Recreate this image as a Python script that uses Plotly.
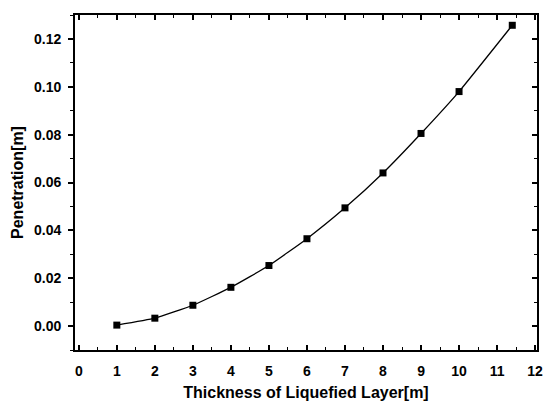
import plotly.graph_objects as go

thickness = [1, 2, 3, 4, 5, 6, 7, 8, 9, 10, 11.4]
penetration = [0.0004, 0.0033, 0.0087, 0.0162, 0.0253, 0.0365, 0.0494, 0.064, 0.0805, 0.098, 0.1257]
x_ticks = list(range(0, 13))
y_ticks = [0.0, 0.02, 0.04, 0.06, 0.08, 0.10, 0.12]
y_labels = ["0.00", "0.02", "0.04", "0.06", "0.08", "0.10", "0.12"]

FONT = "Liberation Sans, Arial, sans-serif"

fig = go.Figure()
fig.add_trace(go.Scatter(
    x=thickness, y=penetration, mode="lines+markers",
    line=dict(color="black", width=1.3, shape="spline", smoothing=0.4),
    marker=dict(symbol="square", size=7, color="black"),
    showlegend=False,
))
# invisible trace for right-side axis
fig.add_trace(go.Scatter(x=thickness, y=penetration, yaxis="y2", mode="none",
                         showlegend=False, hoverinfo="skip"))

XR = [-0.1, 12.05]
YR = [-0.01, 0.13]

fig.update_layout(
    width=544, height=401,
    margin=dict(l=75, r=7, t=15, b=51),
    paper_bgcolor="white", plot_bgcolor="white",
    font=dict(family=FONT, color="black"),
    xaxis=dict(
        range=XR, tickvals=x_ticks, ticktext=[str(v) for v in x_ticks],
        ticks="inside", ticklen=5, tickwidth=1.5, tickcolor="black",
        minor=dict(dtick=0.5, tick0=0, ticks="inside", ticklen=3, tickwidth=1.2, tickcolor="black"),
        showline=True, linecolor="black", linewidth=1.8, mirror="ticks",
        showgrid=False, zeroline=False, automargin=False,
        ticklabelstandoff=7,
        tickfont=dict(size=14, family=FONT, weight="bold"),
        title=dict(text="Thickness of Liquefied Layer[m]", font=dict(size=16, family=FONT, weight="bold"), standoff=9),
    ),
    yaxis=dict(
        range=YR, tickvals=y_ticks, ticktext=y_labels,
        ticks="outside", ticklen=5, tickwidth=1.5, tickcolor="black",
        minor=dict(dtick=0.01, tick0=0, ticks="outside", ticklen=3, tickwidth=1.2, tickcolor="black"),
        showline=True, linecolor="black", linewidth=1.8, mirror=True,
        showgrid=False, zeroline=False, automargin=False,
        ticklabelstandoff=4,
        tickfont=dict(size=14, family=FONT, weight="bold"),
        title=dict(text="Penetration[m]", font=dict(size=16, family=FONT, weight="bold"), standoff=6),
    ),
    yaxis2=dict(
        range=YR, overlaying="y", side="right", tickvals=y_ticks, showticklabels=False,
        ticks="inside", ticklen=5, tickwidth=1.5, tickcolor="black",
        minor=dict(dtick=0.01, tick0=0, ticks="inside", ticklen=3, tickwidth=1.2, tickcolor="black"),
        showline=False, showgrid=False, zeroline=False, automargin=False,
    ),
)

fig.write_html("out.html")
